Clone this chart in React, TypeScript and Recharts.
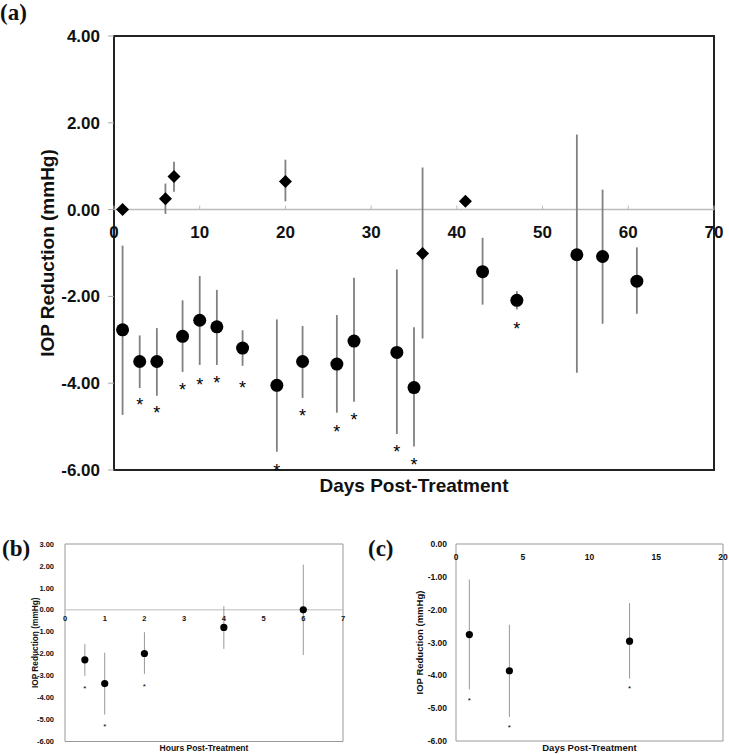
import React from 'react'
import { ScatterChart, Scatter, XAxis, YAxis, ErrorBar, ReferenceLine, ReferenceArea, Label } from 'recharts'

const FONT = '"Liberation Sans", Arial, Helvetica, sans-serif'

// (a) long-term, circles
const aCircleDays = [1, 3, 5, 8, 10, 12, 15, 19, 22, 26, 28, 33, 35, 43, 47, 54, 57, 61]
const aCircleMean = [-2.77, -3.5, -3.5, -2.92, -2.55, -2.7, -3.19, -4.05, -3.5, -3.56, -3.03, -3.29, -4.1, -1.43, -2.09, -1.04, -1.08, -1.65]
const aCircleHigh = [-0.83, -2.9, -2.73, -2.09, -1.53, -1.85, -2.78, -2.53, -2.68, -2.43, -1.57, -1.38, -2.71, -0.65, -1.88, 1.73, 0.46, -0.87]
const aCircleLow = [-4.73, -4.11, -4.29, -3.74, -3.58, -3.58, -3.6, -5.58, -4.34, -4.68, -4.43, -5.17, -5.46, -2.19, -2.3, -3.76, -2.63, -2.4]

// (a) diamonds
const aDiamondDays = [1, 6, 7, 20, 36, 41]
const aDiamondMean = [0, 0.25, 0.76, 0.65, -1.01, 0.19]
const aDiamondHigh = [0, 0.6, 1.1, 1.15, 0.97, 0.19]
const aDiamondLow = [0, -0.1, 0.41, 0.19, -2.97, 0.19]

// (a) significance stars
const aStarDays = [3, 5, 8, 10, 12, 15, 19, 22, 26, 28, 33, 35, 47]
const aStarY = [-4.39, -4.58, -4.05, -3.93, -3.89, -4.0, -5.91, -4.66, -5.02, -4.75, -5.49, -5.78, -2.65]

// (b) hours
const bHours = [0.5, 1, 2, 4, 6]
const bMean = [-2.28, -3.36, -1.99, -0.8, 0]
const bHigh = [-1.56, -1.95, -1.02, 0.17, 2.06]
const bLow = [-3.01, -4.77, -2.92, -1.78, -2.06]
const bStarHours = [0.5, 1, 2]
const bStarY = [-3.5, -5.23, -3.41]

// (c) days
const cDays = [1, 4, 13]
const cMean = [-2.76, -3.86, -2.96]
const cHigh = [-1.08, -2.46, -1.8]
const cLow = [-4.43, -5.27, -4.1]
const cStarY = [-4.69, -5.51, -4.33]

const aXTicks = [0, 10, 20, 30, 40, 50, 60, 70]
const aYTicks = [4, 2, 0, -2, -4, -6]
const bXTicks = [0, 1, 2, 3, 4, 5, 6, 7]
const bYTicks = [3, 2, 1, 0, -1, -2, -3, -4, -5, -6]
const cXTicks = [0, 5, 10, 15, 20]
const cYTicks = [0, -1, -2, -3, -4, -5, -6]

const withErr = (xs: number[], mean: number[], hi: number[], lo: number[]) =>
  xs.map((x, i) => ({ x, y: mean[i], err: [mean[i] - lo[i], hi[i] - mean[i]] }))
const pts = (xs: number[], ys: number[]) => xs.map((x, i) => ({ x, y: ys[i] }))

const aCircles = withErr(aCircleDays, aCircleMean, aCircleHigh, aCircleLow)
const aDiamonds = withErr(aDiamondDays, aDiamondMean, aDiamondHigh, aDiamondLow)
const aStars = pts(aStarDays, aStarY)
const bData = withErr(bHours, bMean, bHigh, bLow)
const bStars = pts(bStarHours, bStarY)
const cData = withErr(cDays, cMean, cHigh, cLow)
const cStars = pts(cDays, cStarY)

const fmt = (v: number) => v.toFixed(2)

function zeroTick(zeroY: number, textDy: number, fontSize: number, markLen: number) {
  return (props: any) => {
    const { x, payload } = props
    return (
      <g>
        {markLen > 0 && <line x1={x} x2={x} y1={zeroY - markLen} y2={zeroY} stroke="#bbb" />}
        <text x={x} y={zeroY + textDy} textAnchor="middle" fontSize={fontSize} fontWeight="bold" fontFamily={FONT} fill="#111">
          {payload.value}
        </text>
      </g>
    )
  }
}

function yTitle(text: string, dx: number, fontSize: number) {
  return (props: any) => {
    const vb = props.viewBox
    const x = vb.x + vb.width / 2 + dx
    const y = vb.y + vb.height / 2
    return (
      <text x={x} y={y} transform={`rotate(-90, ${x}, ${y})`} textAnchor="middle" dy="0.35em"
        fontSize={fontSize} fontWeight="bold" fontFamily={FONT} fill="#111">
        {text}
      </text>
    )
  }
}

const dot = (r: number) => (p: any) => <circle cx={p.cx} cy={p.cy} r={r} fill="#000" />
const diamond = (h: number) => (p: any) => (
  <path d={`M${p.cx},${p.cy - h}L${p.cx + h},${p.cy}L${p.cx},${p.cy + h}L${p.cx - h},${p.cy}Z`} fill="#000" />
)
const star = (size: number) => (p: any) => (
  <text x={p.cx} y={p.cy} dy={size * 0.58} textAnchor="middle" fontSize={size} fontFamily={FONT} fill="#000">*</text>
)

function PanelA() {
  const top = 36
  const h = 434
  const zeroY = top + h * 0.4
  return (
    <ScatterChart width={729} height={500} margin={{ top, right: 15, bottom: 0, left: 0 }}>
      <XAxis type="number" dataKey="x" domain={[0, 70]} ticks={aXTicks} interval={0} height={30}
        axisLine={false} tickLine={false} tick={zeroTick(zeroY, 28.5, 17, 4)}>
        <Label value="Days Post-Treatment" position="center" fontSize={19} fontWeight="bold" fontFamily={FONT} fill="#111" />
      </XAxis>
      <YAxis type="number" dataKey="y" domain={[-6, 4]} ticks={aYTicks} interval={0} width={114}
        tickFormatter={fmt} axisLine={false} tickLine={{ stroke: '#aaa' }} tickSize={6} tickMargin={8}
        tick={{ fontSize: 17, fontWeight: 'bold', fontFamily: FONT, fill: '#111' }}>
        <Label content={yTitle('IOP Reduction (mmHg)', -10, 19)} />
      </YAxis>
      <ReferenceLine y={0} stroke="#bbb" strokeWidth={1.5} />
      <ReferenceArea x1={0} x2={70} y1={-6} y2={4} fill="none" stroke="#222" strokeWidth={2} fillOpacity={0} />
      <Scatter data={aCircles} shape={dot(6.5)} isAnimationActive={false}>
        <ErrorBar dataKey="err" direction="y" width={0} stroke="#808080" strokeWidth={1.8} />
      </Scatter>
      <Scatter data={aDiamonds} shape={diamond(6.5)} isAnimationActive={false}>
        <ErrorBar dataKey="err" direction="y" width={0} stroke="#808080" strokeWidth={1.8} />
      </Scatter>
      <Scatter data={aStars} shape={star(18)} isAnimationActive={false} />
    </ScatterChart>
  )
}

function PanelB() {
  const top = 14
  const h = 197.5
  const zeroY = top + h * (3 / 9)
  return (
    <ScatterChart width={350} height={225} margin={{ top, right: 7, bottom: 0, left: 0 }}>
      <XAxis type="number" dataKey="x" domain={[0, 7]} ticks={bXTicks} interval={0} height={13.5}
        axisLine={false} tickLine={false} tick={zeroTick(zeroY, 11, 7.5, 0)}>
        <Label value="Hours Post-Treatment" position="center" fontSize={8.5} fontWeight="bold" fontFamily={FONT} fill="#111" />
      </XAxis>
      <YAxis type="number" dataKey="y" domain={[-6, 3]} ticks={bYTicks} interval={0} width={65}
        tickFormatter={fmt} axisLine={false} tickLine={false} tickSize={3} tickMargin={8}
        tick={{ fontSize: 7.5, fontWeight: 'bold', fontFamily: FONT, fill: '#111' }}>
        <Label content={yTitle('IOP Reduction (mmHg)', 2.5, 8.3)} />
      </YAxis>
      <ReferenceLine y={0} stroke="#bbb" strokeWidth={1} />
      <ReferenceArea x1={0} x2={7} y1={-6} y2={3} fill="none" stroke="#999" strokeWidth={1} fillOpacity={0} />
      <Scatter data={bData} shape={dot(3.6)} isAnimationActive={false}>
        <ErrorBar dataKey="err" direction="y" width={0} stroke="#999" strokeWidth={1} />
      </Scatter>
      <Scatter data={bStars} shape={star(8)} isAnimationActive={false} />
    </ScatterChart>
  )
}

function PanelC() {
  const top = 14
  const h = 197
  const zeroY = top
  return (
    <ScatterChart width={369} height={225} margin={{ top, right: 6, bottom: 0, left: 0 }}>
      <XAxis type="number" dataKey="x" domain={[0, 20]} ticks={cXTicks} interval={0} height={225 - top - h}
        axisLine={false} tickLine={false} tick={zeroTick(zeroY, 16, 8.5, 0)}>
        <Label value="Days Post-Treatment" position="center" fontSize={9.5} fontWeight="bold" fontFamily={FONT} fill="#111" />
      </XAxis>
      <YAxis type="number" dataKey="y" domain={[-6, 0]} ticks={cYTicks} interval={0} width={96}
        tickFormatter={fmt} axisLine={false} tickLine={false} tickSize={3} tickMargin={6}
        tick={{ fontSize: 8.5, fontWeight: 'bold', fontFamily: FONT, fill: '#111' }}>
        <Label content={yTitle('IOP Reduction (mmHg)', 12, 9.5)} />
      </YAxis>
      <ReferenceArea x1={0} x2={20} y1={-6} y2={0} fill="none" stroke="#999" strokeWidth={1} fillOpacity={0} />
      <Scatter data={cData} shape={dot(3.6)} isAnimationActive={false}>
        <ErrorBar dataKey="err" direction="y" width={0} stroke="#999" strokeWidth={1} />
      </Scatter>
      <Scatter data={cStars} shape={star(8)} isAnimationActive={false} />
    </ScatterChart>
  )
}

const panelLabel = { position: 'absolute' as const, font: 'bold 23px "Liberation Serif", "Times New Roman", serif', lineHeight: '23px', color: '#111' }

export default function App() {
  return (
    <div style={{ position: 'absolute', left: 0, top: 0, width: 729, height: 755, background: '#fff', overflow: 'hidden' }}>
      <div style={{ position: 'absolute', left: 0, top: 0 }}>
        <PanelA />
      </div>
      <div style={{ position: 'absolute', left: 0, top: 530 }}>
        <PanelB />
      </div>
      <div style={{ position: 'absolute', left: 360, top: 530 }}>
        <PanelC />
      </div>
      <div style={{ ...panelLabel, left: 0, top: 1 }}>(a)</div>
      <div style={{ ...panelLabel, left: 2, top: 537 }}>(b)</div>
      <div style={{ ...panelLabel, left: 368, top: 537 }}>(c)</div>
    </div>
  )
}
